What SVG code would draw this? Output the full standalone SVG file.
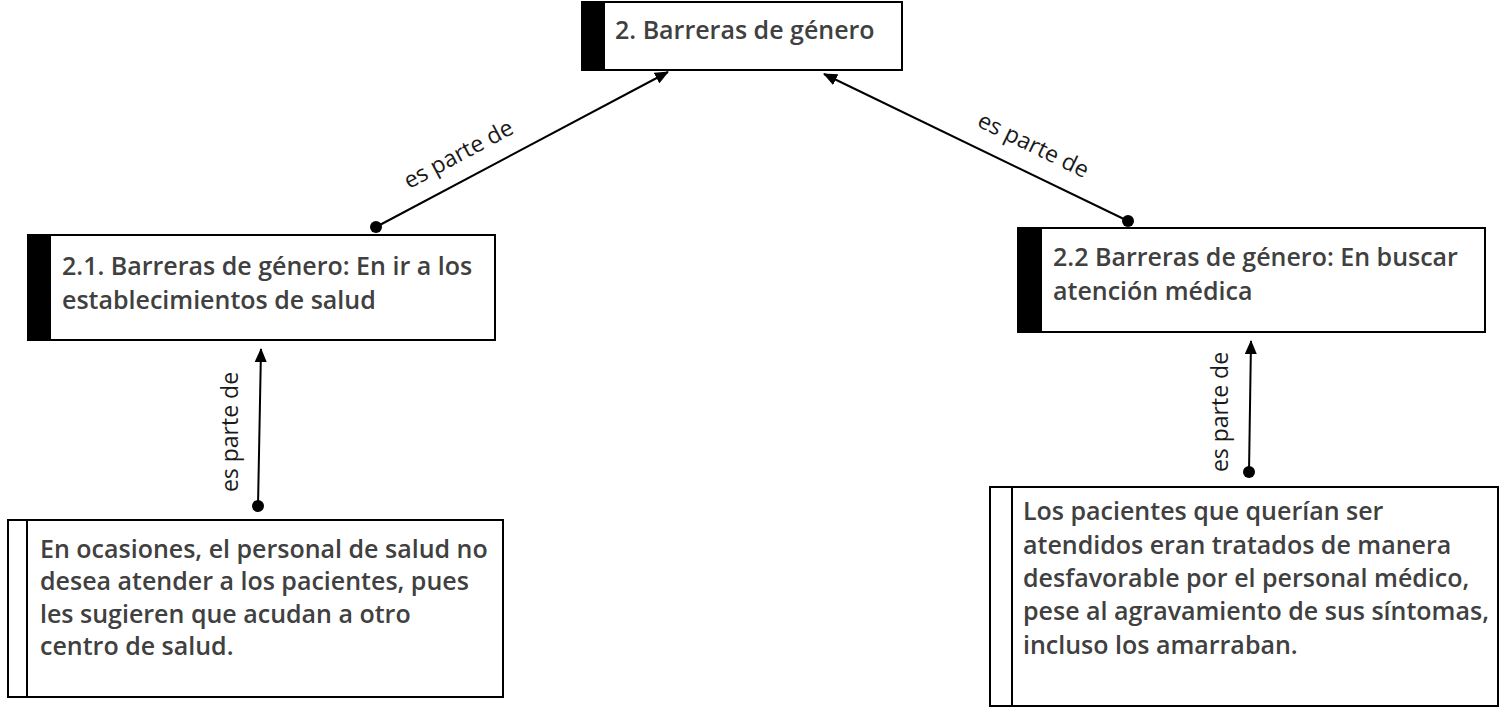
<svg xmlns="http://www.w3.org/2000/svg" width="1503" height="708" viewBox="0 0 1503 708">
<defs>
<style>
.box{fill:#fff;stroke:#000;stroke-width:2}
.bar{fill:#000}
.t{font-family:"Open Sans","Liberation Sans",sans-serif;font-weight:600;font-size:25px;fill:#404040}
.lbl{font-family:"Open Sans","Liberation Sans",sans-serif;font-size:23px;fill:#1a1a1a;text-anchor:middle}
.edge{stroke:#000;stroke-width:2;fill:none;marker-end:url(#arr);marker-start:url(#dot)}
</style>
<marker id="arr" viewBox="0 0 14 12" refX="13" refY="6" markerWidth="14" markerHeight="12" markerUnits="userSpaceOnUse" orient="auto"><path d="M0,0 L14,6 L0,12 Z" fill="#000"/></marker>
<marker id="dot" viewBox="0 0 12 12" refX="6" refY="6" markerWidth="12" markerHeight="12" markerUnits="userSpaceOnUse"><circle cx="6" cy="6" r="6" fill="#000"/></marker>
</defs>
<rect width="1503" height="708" fill="#fff"/>
<g id="connectors">
<path class="edge" d="M376,227 L668,72"/>
<path class="edge" d="M1128,221 L824,74"/>
<path class="edge" d="M258,506 L261,349"/>
<path class="edge" d="M1249,472 L1251,341"/>
<text class="lbl" transform="translate(462,161) rotate(-28)">es parte de</text>
<text class="lbl" transform="translate(1030,152) rotate(26)">es parte de</text>
<text class="lbl" transform="translate(238,432) rotate(-90)">es parte de</text>
<text class="lbl" transform="translate(1228,412) rotate(-90)">es parte de</text>
</g>
<g id="n2">
<rect class="box" x="582" y="2" width="320" height="68"/>
<rect class="bar" x="581" y="1" width="24" height="70"/>
<text class="t" x="615" y="39">2. Barreras de género</text>
</g>
<g id="n21">
<rect class="box" x="28" y="235" width="467" height="105"/>
<rect class="bar" x="27" y="234" width="24" height="107"/>
<text class="t" x="62" y="275">2.1. Barreras de género: En ir a los</text>
<text class="t" x="62" y="309">establecimientos de salud</text>
</g>
<g id="n22">
<rect class="box" x="1018" y="228" width="467" height="104"/>
<rect class="bar" x="1017" y="227" width="25" height="106"/>
<text class="t" x="1053" y="266">2.2 Barreras de género: En buscar</text>
<text class="t" x="1053" y="300">atención médica</text>
</g>
<g id="n21a">
<rect class="box" x="8" y="520" width="495" height="177"/>
<line x1="27" y1="520" x2="27" y2="697" stroke="#000" stroke-width="2"/>
<text class="t" x="40" y="558">En ocasiones, el personal de salud no</text>
<text class="t" x="40" y="590">desea atender a los pacientes, pues</text>
<text class="t" x="40" y="623">les sugieren que acudan a otro</text>
<text class="t" x="40" y="655">centro de salud.</text>
</g>
<g id="n22a">
<rect class="box" x="990" y="487" width="508" height="219"/>
<line x1="1012" y1="487" x2="1012" y2="706" stroke="#000" stroke-width="2"/>
<text class="t" x="1023" y="520">Los pacientes que querían ser</text>
<text class="t" x="1023" y="554">atendidos eran tratados de manera</text>
<text class="t" x="1023" y="587">desfavorable por el personal médico,</text>
<text class="t" x="1023" y="620">pese al agravamiento de sus síntomas,</text>
<text class="t" x="1023" y="654">incluso los amarraban.</text>
</g>
</svg>
